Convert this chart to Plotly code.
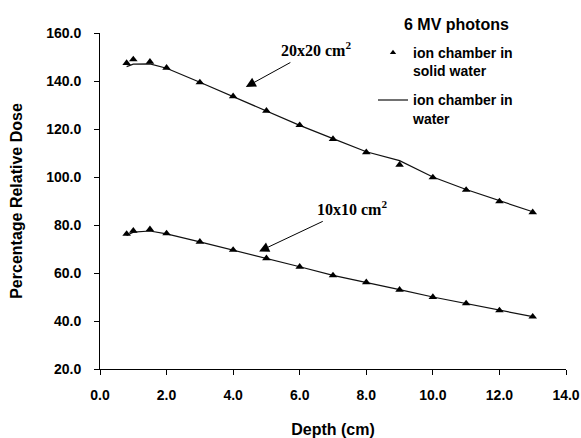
import plotly.graph_objects as go

# Depth-dose data, 6 MV photons
depth = [0.8, 1.0, 1.5, 2.0, 3.0, 4.0, 5.0, 6.0, 7.0, 8.0, 9.0, 10.0, 11.0, 12.0, 13.0]

# ion chamber in solid water (markers)
solid_20 = [147.5, 149.0, 148.0, 145.5, 139.4, 133.6, 127.6, 121.6, 115.8, 110.3, 105.1, 99.8, 94.6, 89.8, 85.3]
solid_10 = [76.3, 77.6, 78.2, 76.5, 73.0, 69.6, 66.1, 62.6, 59.0, 56.1, 53.0, 50.0, 47.3, 44.4, 41.8]

# ion chamber in water (lines)
water_20 = [146.0, 147.0, 147.1, 145.3, 139.5, 133.5, 127.5, 121.5, 116.0, 110.5, 106.8, 100.0, 94.8, 90.0, 85.5]
water_10 = [75.6, 77.0, 77.5, 76.3, 73.0, 69.6, 66.0, 62.6, 59.0, 56.2, 53.1, 50.0, 47.3, 44.5, 41.8]

x_ticks = [0, 2, 4, 6, 8, 10, 12, 14]
y_ticks = [20, 40, 60, 80, 100, 120, 140, 160]

# field-size labels: text position and arrow tip, in data units
field_labels = ["20x20 cm<sup>2</sup>", "10x10 cm<sup>2</sup>"]
label_xy = [(6.48, 153.5), (7.56, 87.2)]
arrow_tip = [(4.38, 137.5), (4.78, 69.0)]

BOLD = dict(family="Liberation Sans, Arial, sans-serif", color="black", weight="bold")
W, H = 581, 438
L, R, T, B = 100, 15, 33, 69
PW, PH = W - L - R, H - T - B

fig = go.Figure()

line_style = dict(color="#111111", width=1.2)
marker_style = dict(symbol="triangle-up", size=7.5, color="black")

fig.add_trace(go.Scatter(x=depth, y=water_20, mode="lines", line=line_style,
                         name="ion chamber in<br>water", showlegend=False))
fig.add_trace(go.Scatter(x=depth, y=water_10, mode="lines", line=line_style,
                         name="ion chamber in<br>water", showlegend=False))
fig.add_trace(go.Scatter(x=depth, y=solid_20, mode="markers", marker=marker_style,
                         name="ion chamber in<br>solid water", showlegend=False))
fig.add_trace(go.Scatter(x=depth, y=solid_10, mode="markers", marker=marker_style,
                         name="ion chamber in<br>solid water", showlegend=False))
# legend keys
fig.add_trace(go.Scatter(x=[None], y=[None], mode="markers",
                         marker=dict(symbol="triangle-up", size=5.5, color="black"),
                         name="ion chamber in<br>solid water", legendgroup="s", legendrank=1))
fig.add_trace(go.Scatter(x=[None], y=[None], mode="lines", line=line_style,
                         name="ion chamber in<br>water", legendgroup="w", legendrank=2))

label_font = dict(family="Liberation Serif, Times New Roman, serif", size=16,
                  color="black", weight="bold")
for text, (tx, ty), (hx, hy) in zip(field_labels, label_xy, arrow_tip):
    fig.add_annotation(x=hx, y=hy, xref="x", yref="y",
                       ax=tx, ay=ty, axref="x", ayref="y",
                       text=text, font=label_font, showarrow=True,
                       arrowhead=2, arrowsize=2.0, arrowwidth=1, arrowcolor="black",
                       startstandoff=5)

# legend heading, placed by pixel position above the plot area
fig.add_annotation(x=(456 - L) / PW, y=1 - (24 - T) / PH, xref="paper", yref="paper",
                   xanchor="center", yanchor="middle",
                   text="6 MV photons", showarrow=False, font=dict(BOLD, size=16))

fig.update_layout(
    width=W, height=H,
    margin=dict(l=L, r=R, t=T, b=B, autoexpand=False),
    paper_bgcolor="white", plot_bgcolor="white",
    showlegend=True,
    legend=dict(
        xref="container", yref="container",
        x=373 / W, y=1 - 37 / H, xanchor="left", yanchor="top",
        font=dict(BOLD, size=14),
        bgcolor="rgba(0,0,0,0)", valign="top", itemwidth=30,
        tracegroupgap=8,
    ),
    xaxis=dict(
        range=[0, 14], tickvals=x_ticks, tickformat=".1f",
        showline=True, linecolor="black", linewidth=1,
        ticks="outside", ticklen=5, tickcolor="black",
        showgrid=False, zeroline=False,
        tickfont=dict(BOLD, size=14), ticklabelstandoff=8,
        title=dict(text="Depth (cm)", font=dict(BOLD, size=16), standoff=24),
    ),
    yaxis=dict(
        range=[20, 160], tickvals=y_ticks, tickformat=".1f",
        showline=True, linecolor="black", linewidth=1,
        ticks="outside", ticklen=5, tickcolor="black",
        showgrid=False, zeroline=False,
        tickfont=dict(BOLD, size=14), ticklabelstandoff=10,
        title=dict(text="Percentage Relative Dose", font=dict(BOLD, size=16), standoff=19),
    ),
)

fig.write_html("out.html")
